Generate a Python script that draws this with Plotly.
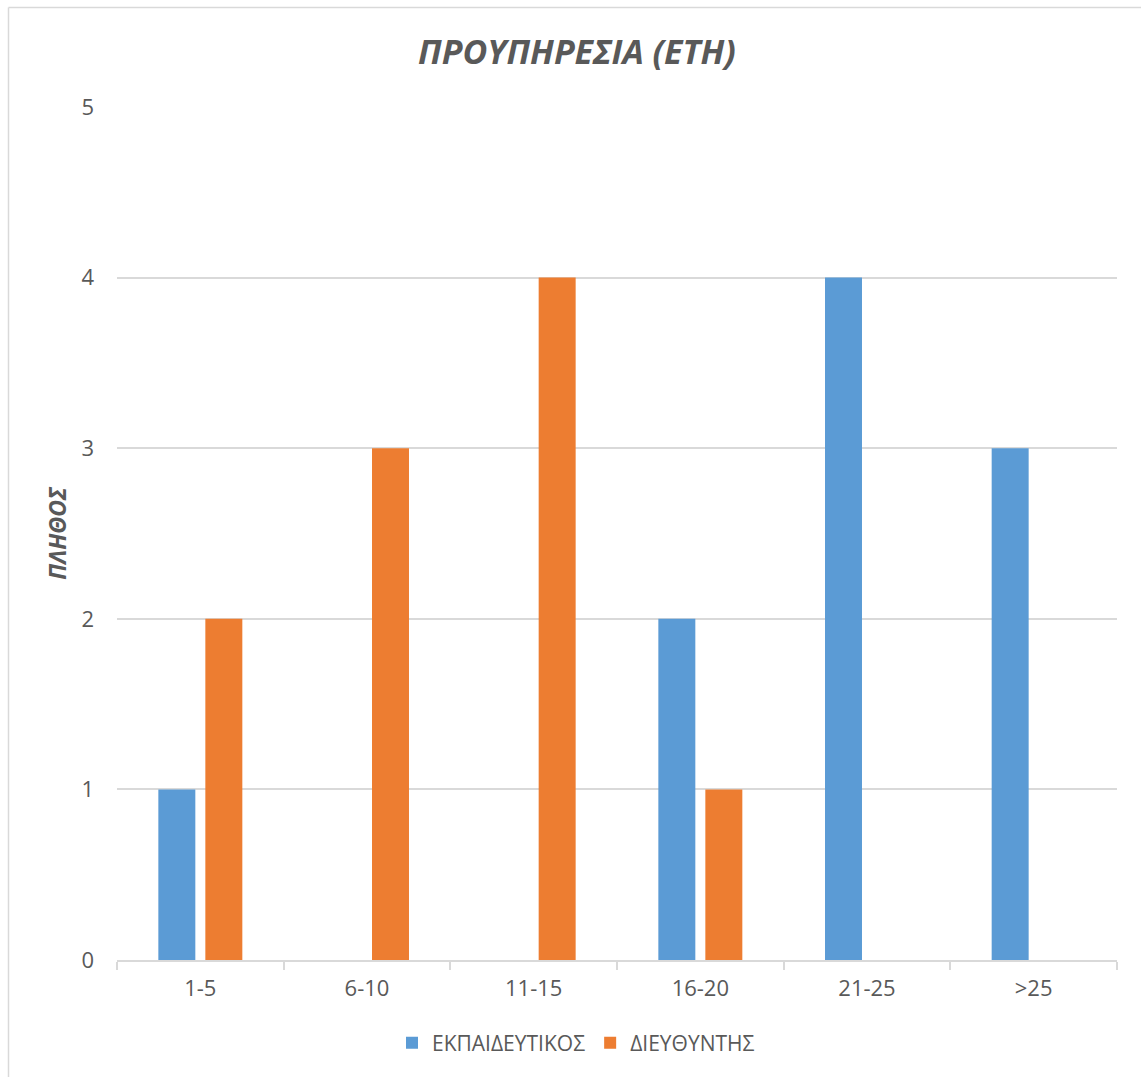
import plotly.graph_objects as go

# Years of service ranges and counts per group
categories = ["1-5", "6-10", "11-15", "16-20", "21-25", ">25"]
teachers = [1, 0, 0, 2, 4, 3]
principals = [2, 3, 4, 1, 0, 0]
y_ticks = [0, 1, 2, 3, 4, 5]

W, H = 1141, 1077
text_color = "#595959"
grid_color = "#d9d9d9"
font_family = "Open Sans, Liberation Sans, sans-serif"

fig = go.Figure()
fig.add_trace(go.Bar(name="ΕΚΠΑΙΔΕΥΤΙΚΟΣ", x=categories, y=teachers,
                     marker=dict(color="#5B9BD5", line=dict(width=0))))
fig.add_trace(go.Bar(name="ΔΙΕΥΘΥΝΤΗΣ", x=categories, y=principals,
                     marker=dict(color="#ED7D31", line=dict(width=0))))

fig.update_layout(
    width=W, height=H,
    margin=dict(l=117, r=24, t=107, b=117),
    paper_bgcolor="white", plot_bgcolor="white",
    font=dict(family=font_family, color=text_color),
    barmode="group", bargap=0.436, bargroupgap=0.213,
    title=dict(text="<b><i>ΠΡΟΥΠΗΡΕΣΙΑ (ΕΤΗ)</i></b>",
               xref="container", yref="container",
               x=577 / W, y=1 - 52 / H, xanchor="center", yanchor="middle",
               font=dict(size=34, color=text_color, family=font_family)),
    legend=dict(orientation="h", xref="container", yref="container",
                x=576 / W, y=1 - 1043 / H, xanchor="center", yanchor="middle",
                font=dict(size=21, color=text_color), itemwidth=30,
                traceorder="normal"),
    showlegend=True,
)

fig.update_xaxes(
    showgrid=False, showline=True, linecolor=grid_color, linewidth=1.5,
    ticks="outside", tickson="boundaries", ticklen=8, tickcolor=grid_color,
    tickwidth=1.5, tickfont=dict(size=22, color=text_color),
    ticklabelstandoff=8,
)
fig.update_yaxes(
    range=[0, 5], tickvals=y_ticks, showgrid=True, gridcolor=grid_color,
    gridwidth=1.5, zeroline=False, showline=False,
    tickfont=dict(size=22, color=text_color), ticklabelstandoff=22,
    title=dict(text="<b><i>ΠΛΗΘΟΣ</i></b>", standoff=8,
               font=dict(size=23, color=text_color)),
)

# Chart-area frame (top and left edges)
fig.add_shape(type="line", xref="paper", yref="paper",
              x0=(8.5 - 117) / 1000, x1=1.2, y0=(960 - 7.5) / 853, y1=(960 - 7.5) / 853,
              line=dict(color=grid_color, width=1.5))
fig.add_shape(type="line", xref="paper", yref="paper",
              x0=(8.5 - 117) / 1000, x1=(8.5 - 117) / 1000, y0=(960 - 7.5) / 853, y1=-0.3,
              line=dict(color=grid_color, width=1.5))

fig.write_html("out.html")
